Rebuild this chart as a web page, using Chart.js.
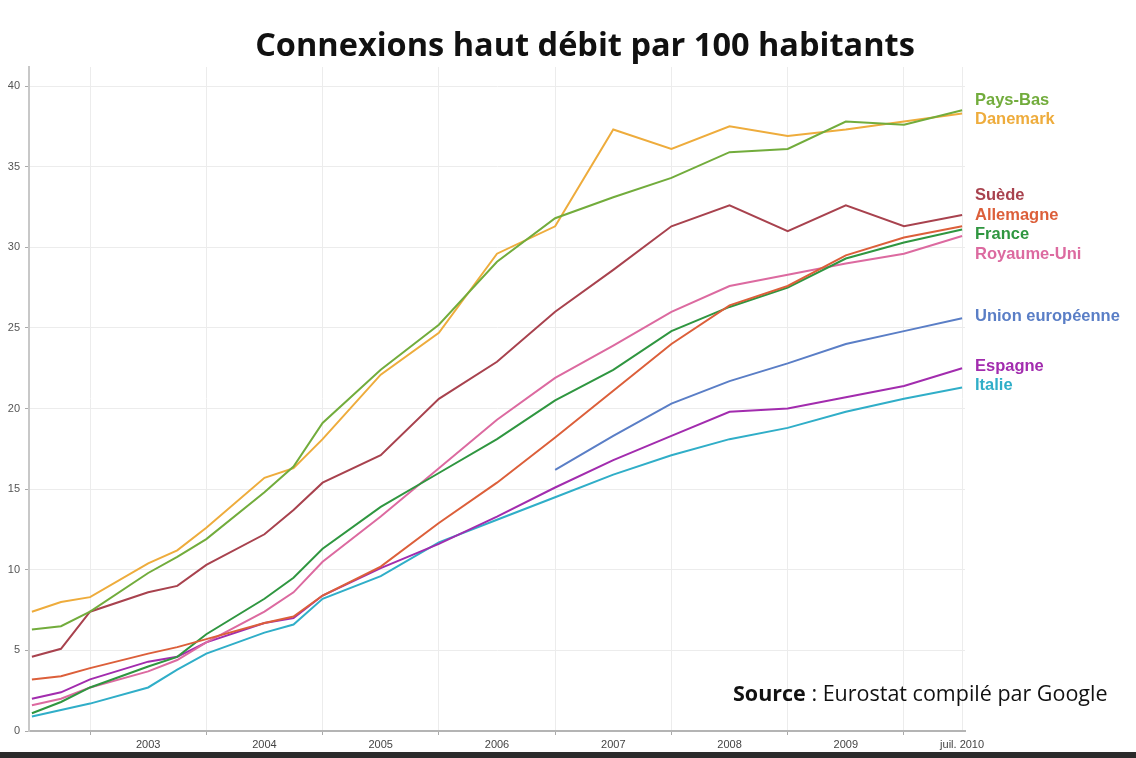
<!DOCTYPE html>
<html>
<head>
<meta charset="utf-8">
<script src="https://cdn.jsdelivr.net/npm/chart.js@4"></script>
<style>
  body { margin: 0; background: #fff; }
  #wrap { position: relative; width: 1136px; height: 758px; overflow: hidden; }
  #titre { position: absolute; left: 585px; top: 24px; transform: translateX(-50%); white-space: nowrap;
    font-family: "Open Sans", sans-serif; font-weight: 700; font-size: 32.5px; line-height: 40px; color: #111; }
  #source { position: absolute; left: 733px; top: 679px; white-space: nowrap;
    font-family: "Open Sans", sans-serif; font-size: 21.5px; line-height: 28px; color: #111; }
  #bas { position: absolute; left: 0; top: 752px; width: 1136px; height: 6px; background: #2b2b2b; }
</style>
</head>
<body>
<div id="wrap">
  <canvas id="myChart" width="1136" height="758"></canvas>
  <div id="titre">Connexions haut débit par 100 habitants</div>
  <div id="source"><b>Source</b> : Eurostat compilé par Google</div>
  <div id="bas"></div>
</div>
<script>
// dates des releves (annee-mois)
let dates = ['2002-07', '2002-10', '2003-01', '2003-07', '2003-10', '2004-01', '2004-07', '2004-10', '2005-01', '2005-07',
  '2006-01', '2006-07', '2007-01', '2007-07', '2008-01', '2008-07', '2009-01', '2009-07', '2010-01', '2010-07']

let paysBas   = [6.3, 6.5, 7.4, 9.8, 10.8, 11.9, 14.8, 16.4, 19.1, 22.4, 25.2, 29.1, 31.8, 33.1, 34.3, 35.9, 36.1, 37.8, 37.6, 38.5]
let danemark  = [7.4, 8.0, 8.3, 10.4, 11.2, 12.6, 15.7, 16.3, 18.1, 22.1, 24.7, 29.6, 31.3, 37.3, 36.1, 37.5, 36.9, 37.3, 37.8, 38.3]
let suede     = [4.6, 5.1, 7.4, 8.6, 9.0, 10.3, 12.2, 13.7, 15.4, 17.1, 20.6, 22.9, 26.0, 28.6, 31.3, 32.6, 31.0, 32.6, 31.3, 32.0]
let allemagne = [3.2, 3.4, 3.9, 4.8, 5.2, 5.7, 6.7, 7.1, 8.4, 10.2, 12.9, 15.4, 18.2, 21.1, 24.0, 26.4, 27.6, 29.5, 30.6, 31.3]
let france    = [1.1, 1.8, 2.7, 4.0, 4.6, 6.0, 8.2, 9.5, 11.3, 13.9, 16.0, 18.1, 20.5, 22.4, 24.8, 26.3, 27.5, 29.3, 30.3, 31.1]
let royaumeUni = [1.6, 2.0, 2.7, 3.7, 4.4, 5.5, 7.4, 8.6, 10.5, 13.3, 16.3, 19.3, 21.9, 23.9, 26.0, 27.6, 28.3, 29.0, 29.6, 30.7]
let ue        = [null, null, null, null, null, null, null, null, null, null, null, null, 16.2, 18.3, 20.3, 21.7, 22.8, 24.0, 24.8, 25.6]
let espagne   = [2.0, 2.4, 3.2, 4.3, 4.6, 5.5, 6.7, 7.0, 8.4, 10.1, 11.6, 13.3, 15.1, 16.8, 18.3, 19.8, 20.0, 20.7, 21.4, 22.5]
let italie    = [0.9, 1.3, 1.7, 2.7, 3.8, 4.8, 6.1, 6.6, 8.2, 9.6, 11.7, 13.1, 14.5, 15.9, 17.1, 18.1, 18.8, 19.8, 20.6, 21.3]

let yearLabels = ['2003', '2004', '2005', '2006', '2007', '2008', '2009', 'juil. 2010']
let yTicks = [0, 5, 10, 15, 20, 25, 30, 35, 40]

// 2002-07 -> 2002.5
let xs = dates.map(d => {
  let p = d.split('-')
  return Number(p[0]) + (Number(p[1]) - 1) / 12
})

function pts(arr) {
  return arr.map((v, i) => ({ x: xs[i], y: v }))
}

let series = [
  { label: 'Pays-Bas', data: paysBas, color: '#72ac3c' },
  { label: 'Danemark', data: danemark, color: '#eeac3c' },
  { label: 'Suède', data: suede, color: '#a8424e' },
  { label: 'Allemagne', data: allemagne, color: '#dc5f3a' },
  { label: 'France', data: france, color: '#2f9640' },
  { label: 'Royaume-Uni', data: royaumeUni, color: '#dc6aa0' },
  { label: 'Union européenne', data: ue, color: '#5a7ec6' },
  { label: 'Espagne', data: espagne, color: '#a22cae' },
  { label: 'Italie', data: italie, color: '#30aec8' }
]

// noms des pays au bout des courbes, ecartes pour ne pas se chevaucher
const endLabels = {
  id: 'endLabels',
  afterDatasetsDraw(chart) {
    let ctx = chart.ctx
    let y = chart.scales.y
    let gap = 19.5
    let items = chart.data.datasets.map(ds => {
      let last = ds.data[ds.data.length - 1].y
      return { text: ds.label, color: ds.borderColor, target: y.getPixelForValue(last) }
    }).sort((a, b) => a.target - b.target)

    let groups = items.map(it => [it])
    let place = g => {
      let mean = g.reduce((s, it) => s + it.target, 0) / g.length
      g.forEach((it, i) => { it.pos = mean + (i - (g.length - 1) / 2) * gap })
    }
    let merged = true
    while (merged) {
      merged = false
      groups.forEach(place)
      for (let i = 0; i < groups.length - 1; i++) {
        let a = groups[i], b = groups[i + 1]
        if (a[a.length - 1].pos + gap > b[0].pos) {
          groups.splice(i, 2, a.concat(b))
          merged = true
          break
        }
      }
    }

    ctx.save()
    ctx.font = 'bold 16.5px "Liberation Sans", Arial, sans-serif'
    ctx.textBaseline = 'middle'
    ctx.textAlign = 'left'
    items.forEach(it => {
      ctx.fillStyle = it.color
      ctx.fillText(it.text, chart.chartArea.right + 10, it.pos - 2)
    })
    ctx.restore()
  }
}

const ctx = document.getElementById('myChart')

let chart = new Chart(ctx, {
  type: 'line',
  data: {
    datasets: series.map(s => ({
      label: s.label,
      data: pts(s.data),
      borderColor: s.color,
      backgroundColor: s.color,
      borderWidth: 2,
      pointRadius: 0,
      tension: 0,
      fill: false
    }))
  },
  options: {
    responsive: false,
    animation: false,
    devicePixelRatio: 1,
    layout: { padding: { left: 0, right: 171, top: 67, bottom: 0 } },
    plugins: {
      legend: { display: false },
      tooltip: { enabled: false }
    },
    scales: {
      x: {
        type: 'linear',
        min: 2002.475,
        max: 2010.525,
        afterBuildTicks: scale => {
          let t = []
          for (let v = 2003; v <= 2010.5; v += 0.5) t.push({ value: v })
          scale.ticks = t
        },
        afterFit: scale => { scale.height = 27 },
        ticks: {
          autoSkip: false,
          maxRotation: 0,
          padding: 3,
          color: '#444',
          font: { family: 'Arial, "Liberation Sans", sans-serif', size: 11 },
          callback: v => (v % 1 === 0.5 ? yearLabels[v - 2003.5] : '')
        },
        grid: {
          tickLength: 4,
          color: c => (c.tick && (c.tick.value % 1 === 0 || c.tick.value === 2010.5) ? '#ececec' : 'rgba(0,0,0,0)'),
          tickColor: c => (c.tick && c.tick.value % 1 === 0 ? '#aaa' : 'rgba(0,0,0,0)')
        },
        border: { color: '#b4b4b4', width: 2 }
      },
      y: {
        min: 0,
        max: 41.18,
        afterBuildTicks: scale => { scale.ticks = yTicks.map(v => ({ value: v })) },
        afterFit: scale => { scale.width = 29 },
        ticks: {
          padding: 5,
          color: '#555',
          font: { family: 'Arial, "Liberation Sans", sans-serif', size: 11 }
        },
        grid: { color: '#ececec', tickLength: 4, tickColor: '#aaa' },
        border: { color: '#c8c8c8', width: 2 }
      }
    }
  },
  plugins: [endLabels]
})
</script>
</body>
</html>
